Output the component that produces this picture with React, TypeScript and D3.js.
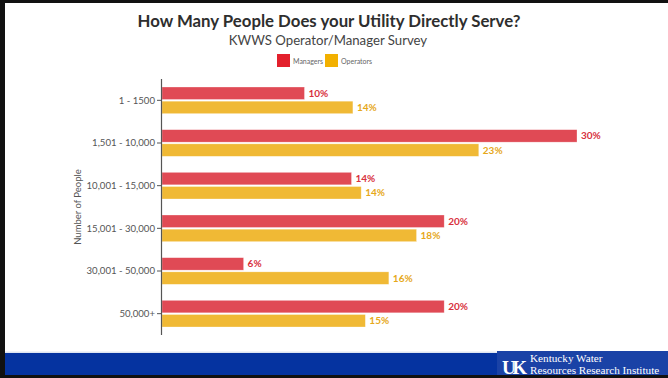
import React from "react";
import * as d3 from "d3";

const categories = ["1 - 1500", "1,501 - 10,000", "10,001 - 15,000", "15,001 - 30,000", "30,001 - 50,000", "50,000+"];
const seriesNames = ["Managers", "Operators"];
const managers = [10.3, 30.0, 13.7, 20.4, 5.9, 20.4];
const operators = [13.8, 22.9, 14.4, 18.4, 16.4, 14.7];
const managerLabels = ["10%", "30%", "14%", "20%", "6%", "20%"];
const operatorLabels = ["14%", "23%", "14%", "18%", "16%", "15%"];

const W = 668;
const H = 378;
const barColors = ["#e04a55", "#f0b935"];
const swatchColors = ["#e3202c", "#f2b000"];
const labelColors = ["#d8313d", "#e6a81a"];
const FONT = "Lato, 'Open Sans', sans-serif";

export default function App() {
  const x = d3.scaleLinear().domain([0, 30]).range([162, 577]);
  const y = d3.scaleBand<string>().domain(categories).range([79, 335]).paddingInner(0.375).paddingOuter(0.1875);
  const sub = d3.scaleBand<string>().domain(seriesNames).range([0, y.bandwidth()]).paddingInner(0.12);
  const series = [
    { name: seriesNames[0], values: managers, labels: managerLabels },
    { name: seriesNames[1], values: operators, labels: operatorLabels },
  ];
  return (
    <svg width={W} height={H} style={{ position: "fixed", left: 0, top: 0, background: "#fff" }} fontFamily={FONT}>
      <rect x={0} y={0} width={W} height={H} fill="#fff" />
      <text x={329} y={27} textAnchor="middle" fontSize={16.8} fontWeight={700} fill="#2e2e2e">
        How Many People Does your Utility Directly Serve?
      </text>
      <text x={328} y={45} textAnchor="middle" fontSize={13.2} fill="#444">
        KWWS Operator/Manager Survey
      </text>
      {/* legend */}
      <g>
        <rect x={277} y={54} width={13} height={13} fill={swatchColors[0]} />
        <text x={293} y={63.5} fontSize={7} fill="#666">Managers</text>
        <rect x={325} y={54} width={13} height={13} fill={swatchColors[1]} />
        <text x={341} y={63.5} fontSize={7} fill="#666">Operators</text>
      </g>
      {/* bars */}
      {series.map((s, si) => (
        <g key={s.name}>
          {categories.map((c, i) => {
            const by = (y(c) as number) + (sub(s.name) as number);
            const bh = sub.bandwidth();
            return (
              <g key={c}>
                <rect x={x(0)} y={by} width={x(s.values[i]) - x(0)} height={bh} fill={barColors[si]} stroke="#fff" strokeOpacity={0.5} strokeWidth={0.6} />
                <text x={x(s.values[i]) + 4} y={by + bh / 2} dy="0.35em" fontSize={10} fontWeight={700} fill={labelColors[si]}>
                  {s.labels[i]}
                </text>
              </g>
            );
          })}
        </g>
      ))}
      {/* y axis */}
      <line x1={161.5} x2={161.5} y1={79} y2={335} stroke="#555" strokeWidth={1.2} />
      {categories.map((c) => {
        const cy = (y(c) as number) + y.bandwidth() / 2;
        return (
          <g key={c}>
            <line x1={157} x2={161.5} y1={cy} y2={cy} stroke="#555" strokeWidth={1} />
            <text x={155} y={cy} dy="0.35em" textAnchor="end" fontSize={9.6} fill="#555">
              {c}
            </text>
          </g>
        );
      })}
      <text transform="translate(81,207) rotate(-90)" textAnchor="middle" fontSize={9.5} fill="#555">
        Number of People
      </text>
      {/* footer band */}
      <rect x={5} y={351.5} width={W} height={1.5} fill="#dfe6f2" />
      <rect x={5} y={353} width={W} height={22} fill="#0533a0" />
      <rect x={497} y={351} width={171} height={24} fill="#1a42a6" />
      <text x={502} y={374} fontFamily="'Liberation Serif', serif" fontWeight={700} fontSize={19} fill="#fff" letterSpacing={-3.5}>
        UK
      </text>
      <text x={530} y={361.5} fontFamily="'Liberation Serif', serif" fontSize={11.2} fill="#fff">
        Kentucky Water
      </text>
      <text x={530} y={374} fontFamily="'Liberation Serif', serif" fontSize={11.2} fill="#fff">
        Resources Research Institute
      </text>
      {/* black frame */}
      <rect x={0} y={0} width={W} height={3} fill="#111" />
      <rect x={0} y={0} width={5} height={H} fill="#111" />
      <rect x={0} y={375} width={W} height={3} fill="#111" />
    </svg>
  );
}
